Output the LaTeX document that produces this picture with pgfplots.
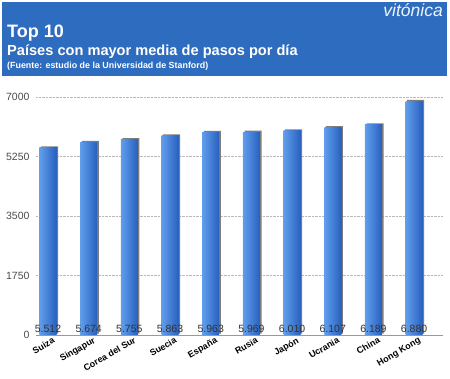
\documentclass[border=0pt]{standalone}
\usepackage{pgfplots}
\pgfplotsset{compat=1.18}
\usepackage{fontspec}
\setmainfont{Liberation Sans}
\definecolor{hdr}{RGB}{45,108,190}
\definecolor{barL}{RGB}{96,158,236}
\definecolor{barD}{RGB}{40,96,190}
\definecolor{shd}{RGB}{125,125,125}
\pgfplotsset{mybar/.style={ybar, bar width=17pt, bar shift=0pt, draw=none, left color=barL, right color=barD}}
\begin{document}
\begin{tikzpicture}
\fill[white] (0pt,0pt) rectangle (450pt,379pt);
\fill[hdr] (2pt,303pt) rectangle (447pt,377pt);
\node[anchor=base east, inner sep=0pt, text=white!92!hdr, font=\fontsize{17.5}{18}\selectfont\itshape] at (443pt,362pt) {vitónica};
\node[anchor=base west, inner sep=0pt, text=white, font=\fontsize{18}{18}\selectfont\bfseries] at (7pt,341pt) {Top 10};
\node[anchor=base west, inner sep=0pt, text=white, font=\fontsize{14.6}{15}\selectfont\bfseries] at (7pt,323pt) {Países con mayor media de pasos por día};
\node[anchor=base west, inner sep=0pt, text=white, font=\fontsize{8.9}{9}\selectfont\bfseries] at (7pt,310.5pt) {(Fuente: estudio de la Universidad de Stanford)};
\begin{axis}[
  at={(36pt,44pt)}, anchor=south west,
  scale only axis, width=407pt, height=238pt,
  xmin=-0.295, xmax=9.71, ymin=0, ymax=7000,
  clip=false,
  axis lines*=left,
  y axis line style={draw=none},
  x axis line style={draw=gray!80, line width=0.8pt},
  major tick length=0pt,
  ytick={0,1750,3500,5250,7000},
  ymajorgrids,
  grid style={densely dotted, gray!55, line width=0.5pt},
  /pgf/number format/assume math mode=true,
  /pgf/number format/set thousands separator={},
  yticklabel style={font=\fontsize{10.5}{11}\selectfont, text=black!70, xshift=-3pt},
  xtick={0,...,9},
  xticklabels={Suiza, Singapur, Corea del Sur, Suecia, España, Rusia, Japón, Ucrania, China, Hong Kong},
  x tick label style={rotate=30, anchor=north east, font=\small\bfseries, xshift=6pt},
]
\addplot[ybar, bar width=17pt, bar shift=1.6pt, yshift=1.3pt, draw=none, fill=shd]
  coordinates {(0,5512) (1,5674) (2,5755) (3,5863) (4,5963) (5,5969) (6,6010) (7,6107) (8,6189) (9,6880)};
\addplot[mybar] coordinates {(0,5512)};
\addplot[mybar] coordinates {(1,5674)};
\addplot[mybar] coordinates {(2,5755)};
\addplot[mybar] coordinates {(3,5863)};
\addplot[mybar] coordinates {(4,5963)};
\addplot[mybar] coordinates {(5,5969)};
\addplot[mybar] coordinates {(6,6010)};
\addplot[mybar] coordinates {(7,6107)};
\addplot[mybar] coordinates {(8,6189)};
\addplot[mybar] coordinates {(9,6880)};
\addplot[draw=none, mark=none, nodes near coords, point meta=explicit symbolic,
  every node near coord/.style={anchor=base, inner sep=0pt, yshift=2pt, font=\fontsize{10.5}{11}\selectfont, text=black!80}]
  coordinates {(0,0) [5.512] (1,0) [5.674] (2,0) [5.755] (3,0) [5.863] (4,0) [5.963] (5,0) [5.969] (6,0) [6.010] (7,0) [6.107] (8,0) [6.189] (9,0) [6.880]};
\end{axis}
\end{tikzpicture}
\end{document}
